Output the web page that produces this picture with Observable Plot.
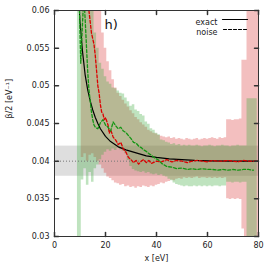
<!DOCTYPE html>
<html>
<head>
<meta charset="utf-8">
<script src="https://cdn.jsdelivr.net/npm/d3@7"></script>
<script src="https://cdn.jsdelivr.net/npm/@observablehq/plot@0.6"></script>
<style>
  html, body { margin: 0; padding: 0; background: white; }
  #chart { width: 274px; height: 267px; }
</style>
</head>
<body>
<div id="chart"></div>
<script>
// ---- data ----
const xTicks = [0, 20, 40, 60, 80];
const xTickLabels = ["0", "20", "40", "60", "80"];
const yTicks = [0.03, 0.035, 0.04, 0.045, 0.05, 0.055, 0.06];
const yTickLabels = ["0.03", "0.035", "0.04", "0.045", "0.05", "0.055", "0.06"];

const refValue = 0.04;
const refBand = [0.038, 0.042];

// bands: x = 9..80 eV
const bandX = [9,10,11,12,13,14,15,16,17,18,19,20,21,22,23,24,25,26,27,28,29,30,31,32,33,34,35,36,37,38,39,40,41,42,43,44,45,46,47,48,49,50,51,52,53,54,55,56,57,58,59,60,61,62,63,64,65,66,67,68,69,70,71,72,73,74,75,76,77,78,79,80];
const greenHi = [0.07,0.07,0.07,0.07,0.07,0.07,0.061,0.057,0.055,0.053,
  0.0522,0.0512,0.0505,0.0502,0.0497,0.0496,0.0493,0.049,0.0489,0.0484,
  0.0479,0.0473,0.0475,0.0468,0.0466,0.0462,0.046,0.0452,0.0449,0.0443,
  0.0441,0.0437,0.0435,0.0428,0.0427,0.0425,0.0424,0.0422,0.0423,0.0421,
  0.0422,0.042,0.0421,0.042,0.0421,0.042,0.042,0.0421,0.042,0.0419,
  0.042,0.042,0.0421,0.042,0.0419,0.042,0.042,0.0421,0.042,0.042,
  0.0419,0.042,0.042,0.0421,0.042,0.042,0.042,0.0483,0.0483,0.0483,
  0.0483,0.04];
const greenLo = [0.025,0.025,0.0375,0.039,0.0368,0.0385,0.0372,0.039,0.0395,0.0402,
  0.0408,0.0412,0.0415,0.0413,0.0416,0.0414,0.0417,0.0415,0.0413,0.041,
  0.0401,0.0393,0.0389,0.0387,0.0386,0.0385,0.0386,0.0384,0.0385,0.0383,
  0.0382,0.0383,0.0381,0.0382,0.038,0.0379,0.0376,0.0374,0.0371,0.0369,
  0.0368,0.0367,0.0366,0.0367,0.0366,0.0366,0.0367,0.0366,0.0367,0.0366,
  0.0367,0.0366,0.0367,0.0366,0.0367,0.0367,0.0366,0.0367,0.0367,0.0372,
  0.0372,0.0371,0.0372,0.0372,0.0371,0.0372,0.0372,0.025,0.025,0.025,
  0.025,0.04];
const redHi = [0.04,0.04,0.07,0.07,0.07,0.07,0.07,0.07,0.07,0.06,
  0.057,0.055,0.0532,0.052,0.0508,0.0497,0.049,0.0486,0.0481,0.0476,
  0.0472,0.0467,0.0463,0.0458,0.0455,0.0451,0.0448,0.0445,0.0441,0.0439,
  0.0437,0.0436,0.0434,0.0433,0.0432,0.0431,0.0432,0.043,0.0431,0.0429,
  0.043,0.0429,0.0428,0.043,0.0429,0.0428,0.0429,0.043,0.0428,0.0429,
  0.043,0.0429,0.043,0.0431,0.043,0.0429,0.0431,0.043,0.0431,0.0455,
  0.0455,0.0454,0.0455,0.0455,0.0456,0.0534,0.0534,0.07,0.07,0.07,
  0.07,0.07];
const redLo = [0.04,0.04,0.0405,0.041,0.04,0.0408,0.041,0.0405,0.04,0.0395,
  0.039,0.0384,0.0379,0.0377,0.0374,0.0371,0.037,0.0368,0.0369,0.0366,
  0.0367,0.0365,0.0366,0.0364,0.0366,0.0365,0.0367,0.0366,0.0365,0.0367,
  0.0366,0.0368,0.0369,0.0371,0.037,0.0372,0.0373,0.0375,0.0374,0.0376,
  0.0377,0.0376,0.0378,0.0377,0.0378,0.0377,0.0378,0.0379,0.0377,0.0378,
  0.0378,0.0377,0.0378,0.0377,0.0378,0.0377,0.0378,0.0377,0.0378,0.035,
  0.0349,0.035,0.0349,0.035,0.0349,0.031,0.029,0.025,0.025,0.025,
  0.025,0.025];

// exact curve
const exactX = [9.5,10,11,12,13,14,15,16,17,18,20,22,25,28,30,33,36,40,45,50,55,60,70,80];
const exactY = [0.062,0.0585,0.0545,0.0515,0.0495,0.048,0.0468,0.0458,0.045,0.0443,0.0433,0.0426,0.0419,0.0415,0.0413,0.041,0.0407,0.0405,0.0403,0.0402,0.0401,0.04005,0.04,0.04];

// noise realisation (red)
const redX = [13,13.5,14.5,15.5,16,16.5,17,17.5,18,18.5,19,19.5,20,21,21.5,22,23,24,25,26,27,28,29,30,31,32,33,34,35,36,37,38,40,42,44,46,48,50,52,54,56,58,60,62,64,66,68,70,72,74,76,78,80];
const redY = [0.062,0.06,0.057,0.0555,0.054,0.052,0.05,0.049,0.0475,0.0465,0.0463,0.0455,0.0458,0.0448,0.0437,0.0442,0.0432,0.0428,0.0422,0.0425,0.0416,0.0412,0.0405,0.0402,0.0398,0.0401,0.0396,0.04,0.0402,0.0398,0.0401,0.0397,0.04,0.0399,0.0402,0.0399,0.0401,0.04,0.0398,0.04,0.0401,0.04,0.0399,0.0401,0.04,0.04,0.0401,0.04,0.0399,0.0401,0.04,0.04,0.04];

// noise realisation (green)
const greenX = [9.7,10,10.3,10.8,11.5,12,12.5,13,13.5,14,14.5,15,15.5,16,17,18,19,20,21,22,23,24,25,26,27,28,29,30,31,32,33,34,35,36,37,38,39,40,41,42,43,44,46,48,50,52,54,56,58,60,62,64,66,68,70,72,74,76,78];
const greenY = [0.062,0.057,0.053,0.057,0.062,0.059,0.0555,0.052,0.0495,0.048,0.0465,0.0455,0.0448,0.0445,0.0443,0.0451,0.0455,0.0448,0.0445,0.044,0.0452,0.0447,0.0443,0.0445,0.044,0.0438,0.0434,0.043,0.0425,0.0424,0.042,0.0418,0.0415,0.0413,0.041,0.0408,0.0405,0.0403,0.0401,0.0397,0.0395,0.0393,0.0392,0.039,0.0391,0.0389,0.039,0.0389,0.039,0.0389,0.0389,0.0388,0.0389,0.0388,0.0389,0.0388,0.0389,0.0389,0.0388];

// ---- tables ----
const bands = bandX.map((x, i) => ({x, gLo: greenLo[i], gHi: greenHi[i], rLo: redLo[i], rHi: redHi[i]}));
const exact = exactX.map((x, i) => ({x, y: exactY[i]}));
const noiseRed = redX.map((x, i) => ({x, y: redY[i]}));
const noiseGreen = greenX.map((x, i) => ({x, y: greenY[i]}));

const tickShape = {draw(context, l) { context.moveTo(0, 0); context.lineTo(0, -l); }};
const frameColor = "#333";

const chart = Plot.plot({
  width: 274,
  height: 267,
  marginLeft: 54,
  marginRight: 16,
  marginTop: 10,
  marginBottom: 31,
  x: {domain: [0, 80]},
  y: {domain: [0.03, 0.06]},
  style: {fontFamily: "DejaVu Sans", fontSize: "8px", color: "#222", background: "white", overflow: "visible"},
  marks: [
    Plot.rect([refBand], {y1: d => d[0], y2: d => d[1], fill: "#dedede"}),
    Plot.areaY(bands, {x: "x", y1: "rLo", y2: "rHi", curve: "step", fill: "#dc3c3c", fillOpacity: 0.33, clip: true}),
    Plot.areaY(bands, {x: "x", y1: "gLo", y2: "gHi", curve: "step", fill: "#3caa3c", fillOpacity: 0.33, clip: true}),
    Plot.ruleY([refValue], {stroke: "#777", strokeDasharray: "1,2", strokeWidth: 1}),
    Plot.line(exact, {x: "x", y: "y", stroke: "black", strokeWidth: 1.2, clip: true}),
    Plot.line(noiseRed, {x: "x", y: "y", stroke: "#dd0000", strokeWidth: 1.3, strokeDasharray: "3,2", clip: true}),
    Plot.line(noiseGreen, {x: "x", y: "y", stroke: "#149614", strokeWidth: 1.3, strokeDasharray: "3,2", clip: true}),
    // frame and inward ticks
    Plot.frame({stroke: frameColor}),
    Plot.vector(yTicks, {y: d => d, frameAnchor: "left", rotate: 90, length: 4, anchor: "start", shape: tickShape, stroke: frameColor}),
    Plot.vector(yTicks, {y: d => d, frameAnchor: "right", rotate: -90, length: 4, anchor: "start", shape: tickShape, stroke: frameColor}),
    Plot.vector(xTicks, {x: d => d, frameAnchor: "bottom", rotate: 0, length: 4, anchor: "start", shape: tickShape, stroke: frameColor}),
    Plot.vector(xTicks, {x: d => d, frameAnchor: "top", rotate: 180, length: 4, anchor: "start", shape: tickShape, stroke: frameColor}),
    // tick labels
    Plot.axisY({ticks: yTicks, tickSize: 0, tickPadding: 5, tickFormat: d => yTickLabels[yTicks.indexOf(d)], label: null}),
    Plot.axisX({ticks: xTicks, tickSize: 0, tickPadding: 6, tickFormat: d => xTickLabels[xTicks.indexOf(d)], label: null}),
    // axis titles
    Plot.text(["x [eV]"], {frameAnchor: "bottom", dy: 24, fill: "#222"}),
    Plot.text(["β/2 [eV⁻¹]"], {frameAnchor: "left", dx: -45, dy: -5, rotate: -90, fill: "#222"}),
    // panel label
    Plot.text(["h)"], {frameAnchor: "top-left", textAnchor: "start", lineAnchor: "top", dx: 50, dy: 9, fontSize: 13, fill: "#111"}),
    // legend
    Plot.text(["exact"], {frameAnchor: "top-right", textAnchor: "end", dx: -41, dy: 9, fill: "#222"}),
    Plot.text(["noise"], {frameAnchor: "top-right", textAnchor: "end", dx: -41, dy: 19, fill: "#222"}),
    Plot.vector([0], {frameAnchor: "top-right", rotate: -90, length: 25, anchor: "start", shape: tickShape, dx: -11, dy: 9, stroke: "black", strokeWidth: 1.2}),
    Plot.vector([0], {frameAnchor: "top-right", rotate: -90, length: 24, anchor: "start", shape: tickShape, dx: -12, dy: 19, stroke: "black", strokeWidth: 1.2, strokeDasharray: "3,2"})
  ]
});
document.getElementById("chart").appendChild(chart);
</script>
</body>
</html>
